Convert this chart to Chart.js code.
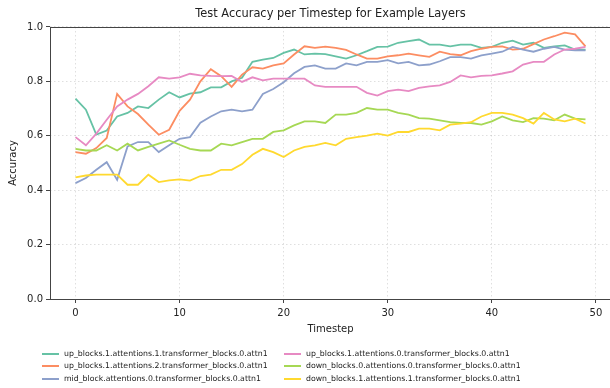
<!DOCTYPE html>
<html>
<head>
<meta charset="utf-8">
<script src="https://cdn.jsdelivr.net/npm/chart.js@4.4.1/dist/chart.umd.min.js"></script>
<style>
  html, body { margin: 0; padding: 0; background: #fff; overflow: hidden; }
  body { width: 610px; height: 388px; position: relative; font-family: "DejaVu Sans", sans-serif; }
  #wrap { position: absolute; left: 0; top: 0; width: 612px; height: 340px; }
  #legend { position: absolute; left: 0; top: 0; width: 610px; height: 388px; font-size: 7.8px; color: #222; pointer-events: none; }
  .item { position: absolute; height: 12px; line-height: 12px; white-space: nowrap; }
  .swatch { position: absolute; left: 0; top: 5px; width: 17px; height: 2px; }
  .label { position: absolute; left: 22px; top: 0; }
</style>
</head>
<body>
<div id="wrap"><canvas id="chart" width="612" height="340"></canvas></div>
<div id="legend"></div>
<script>
const chartTitle = 'Test Accuracy per Timestep for Example Layers';
const xTitle = 'Timestep';
const yTitle = 'Accuracy';

const timesteps = Array.from({ length: 50 }, (_, i) => i);
const xTickValues = [0, 10, 20, 30, 40, 50];
const yTickValues = [0, 0.2, 0.4, 0.6, 0.8, 1.0];

const layerNames = [
  'up_blocks.1.attentions.1.transformer_blocks.0.attn1',
  'up_blocks.1.attentions.2.transformer_blocks.0.attn1',
  'mid_block.attentions.0.transformer_blocks.0.attn1',
  'up_blocks.1.attentions.0.transformer_blocks.0.attn1',
  'down_blocks.0.attentions.0.transformer_blocks.0.attn1',
  'down_blocks.1.attentions.1.transformer_blocks.0.attn1'
];

const upAttn1 = [0.737, 0.696, 0.604, 0.619, 0.671, 0.684, 0.708, 0.702, 0.733, 0.76,
  0.741, 0.755, 0.76, 0.778, 0.778, 0.80, 0.813, 0.872, 0.88, 0.886,
  0.905, 0.917, 0.899, 0.902, 0.90, 0.892, 0.884, 0.896, 0.911, 0.927,
  0.928, 0.942, 0.948, 0.954, 0.935, 0.935, 0.929, 0.935, 0.935, 0.923,
  0.927, 0.942, 0.95, 0.935, 0.942, 0.923, 0.929, 0.932, 0.917, 0.917];
const upAttn2 = [0.54, 0.534, 0.555, 0.592, 0.754, 0.708, 0.68, 0.641, 0.604, 0.622,
  0.692, 0.733, 0.80, 0.845, 0.819, 0.78, 0.825, 0.852, 0.847, 0.859,
  0.866, 0.899, 0.929, 0.923, 0.928, 0.923, 0.916, 0.899, 0.884, 0.884,
  0.892, 0.896, 0.902, 0.896, 0.89, 0.909, 0.90, 0.896, 0.911, 0.92,
  0.927, 0.929, 0.917, 0.92, 0.937, 0.954, 0.966, 0.979, 0.973, 0.929];
const midAttn0 = [0.426, 0.445, 0.475, 0.503, 0.438, 0.561, 0.577, 0.577, 0.54, 0.565,
  0.589, 0.595, 0.648, 0.671, 0.69, 0.696, 0.69, 0.696, 0.754, 0.772,
  0.797, 0.83, 0.853, 0.859, 0.847, 0.847, 0.866, 0.859, 0.872, 0.872,
  0.878, 0.866, 0.872, 0.859, 0.862, 0.874, 0.889, 0.889, 0.884, 0.896,
  0.902, 0.909, 0.927, 0.917, 0.909, 0.92, 0.927, 0.917, 0.914, 0.914];
const upAttn0 = [0.595, 0.565, 0.608, 0.659, 0.708, 0.733, 0.754, 0.782, 0.815, 0.81,
  0.815, 0.828, 0.822, 0.82, 0.819, 0.82, 0.798, 0.815, 0.804, 0.81,
  0.81, 0.81, 0.81, 0.785, 0.78, 0.78, 0.78, 0.78, 0.758, 0.748,
  0.764, 0.77, 0.764, 0.776, 0.782, 0.785, 0.798, 0.822, 0.815, 0.82,
  0.822, 0.829, 0.837, 0.862, 0.872, 0.872, 0.899, 0.917, 0.92, 0.927];
const downAttn00 = [0.552, 0.546, 0.546, 0.565, 0.546, 0.571, 0.546, 0.559, 0.571, 0.583,
  0.567, 0.552, 0.546, 0.546, 0.571, 0.565, 0.577, 0.589, 0.589, 0.614,
  0.62, 0.638, 0.653, 0.653, 0.647, 0.678, 0.678, 0.684, 0.702, 0.696,
  0.696, 0.684, 0.678, 0.665, 0.663, 0.657, 0.65, 0.647, 0.647, 0.641,
  0.653, 0.671, 0.657, 0.65, 0.665, 0.663, 0.657, 0.678, 0.663, 0.66];
const downAttn11 = [0.447, 0.454, 0.457, 0.457, 0.457, 0.42, 0.42, 0.457, 0.43, 0.436,
  0.44, 0.435, 0.452, 0.457, 0.475, 0.475, 0.496, 0.53, 0.552, 0.54,
  0.522, 0.546, 0.559, 0.565, 0.574, 0.565, 0.589, 0.595, 0.601, 0.608,
  0.601, 0.614, 0.614, 0.626, 0.626, 0.62, 0.641, 0.645, 0.65, 0.671,
  0.684, 0.684, 0.678, 0.665, 0.645, 0.684, 0.66, 0.653, 0.663, 0.645];

const seriesValues = [upAttn1, upAttn2, midAttn0, upAttn0, downAttn00, downAttn11];
// Set2 colours, same order as matplotlib
const colors = ['#66c2a5', '#fc8d62', '#8da0cb', '#e78ac3', '#a6d854', '#ffd92f'];

const font = 'DejaVu Sans';
const gridColor = 'rgba(0,0,0,0.16)';
const axisColor = '#444';

const datasets = seriesValues.map((vals, i) => ({
  label: layerNames[i],
  data: timesteps.map((t, j) => ({ x: t, y: vals[j] })),
  borderColor: colors[i],
  backgroundColor: colors[i],
  borderWidth: 1.8,
  pointRadius: 0,
  tension: 0,
  order: seriesValues.length - i // later series drawn on top
}));

// matplotlib-style box around the axes
const framePlugin = {
  id: 'frame',
  afterDatasetsDraw(chart) {
    const { ctx, chartArea: a } = chart;
    ctx.save();
    ctx.strokeStyle = axisColor;
    ctx.lineWidth = 1;
    ctx.setLineDash([]);
    ctx.strokeRect(Math.round(a.left) + 0.5, Math.round(a.top) + 0.5,
      Math.round(a.right - a.left), Math.round(a.bottom - a.top));
    ctx.restore();
  }
};

new Chart(document.getElementById('chart'), {
  type: 'line',
  data: { datasets },
  plugins: [framePlugin],
  options: {
    responsive: false,
    animation: false,
    layout: { padding: { left: 0, right: 1, top: 0, bottom: 0 } },
    plugins: {
      legend: { display: false },
      tooltip: { enabled: false },
      title: {
        display: true,
        text: chartTitle,
        fullSize: false,
        color: '#222',
        font: { family: font, size: 11.4, weight: 'normal' },
        padding: { top: 7.5, bottom: 5.8 }
      }
    },
    scales: {
      x: {
        type: 'linear',
        min: -2.45,
        max: 51.45,
        afterBuildTicks: s => { s.ticks = xTickValues.map(v => ({ value: v })); },
        afterFit: s => { s.height = 41; },
        border: { display: false, dash: [1.5, 2.5] },
        grid: { color: gridColor, lineWidth: 0.8, drawTicks: true, tickLength: 4, tickColor: axisColor, tickWidth: 1, tickBorderDash: [1, 0] },
        ticks: { color: '#222', font: { family: font, size: 10 }, padding: 4, maxRotation: 0, callback: v => String(v) },
        title: { display: true, text: xTitle, color: '#222', font: { family: font, size: 10 }, padding: { top: 0, bottom: 5 } }
      },
      y: {
        min: 0,
        max: 1,
        afterBuildTicks: s => { s.ticks = yTickValues.map(v => ({ value: v })); },
        afterFit: s => { s.width = 50; },
        border: { display: false, dash: [1.5, 2.5] },
        grid: { color: gridColor, lineWidth: 0.8, drawTicks: true, tickLength: 4, tickColor: axisColor, tickWidth: 1, tickBorderDash: [1, 0] },
        ticks: { color: '#222', font: { family: font, size: 10 }, padding: 3, callback: v => v.toFixed(1) },
        title: { display: true, text: yTitle, color: '#222', font: { family: font, size: 10 }, padding: { top: 7, bottom: 0 } }
      }
    }
  }
});

// legend: two columns, filled column by column like matplotlib
const legend = document.getElementById('legend');
const colX = [42, 284];
const rowTop = [347.5, 360, 372.5];
layerNames.forEach((name, i) => {
  const col = Math.floor(i / 3), row = i % 3;
  const item = document.createElement('div');
  item.className = 'item';
  item.style.left = colX[col] + 'px';
  item.style.top = rowTop[row] + 'px';
  item.innerHTML = '<span class="swatch" style="background:' + colors[i] + '"></span><span class="label"></span>';
  item.querySelector('.label').textContent = name;
  legend.appendChild(item);
});
</script>
</body>
</html>
